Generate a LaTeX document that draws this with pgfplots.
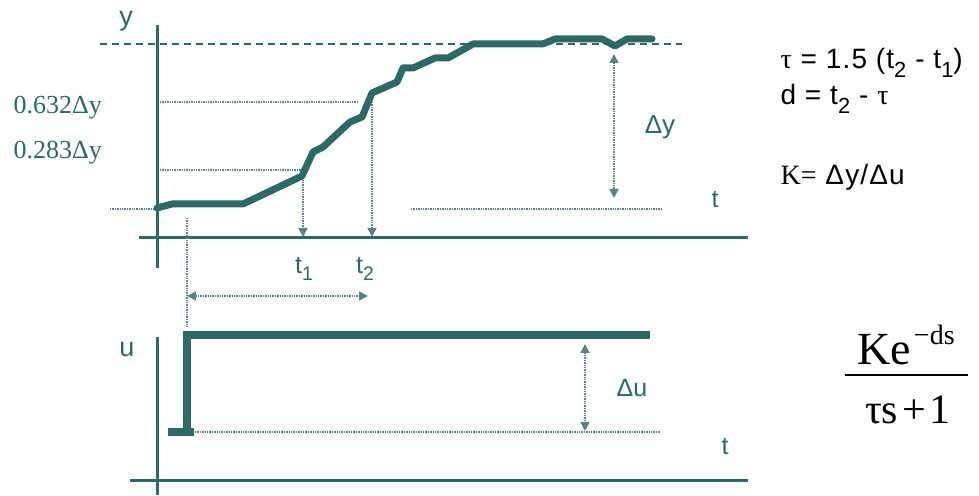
\documentclass[border=0pt]{standalone}
\usepackage{pgfplots}
\pgfplotsset{compat=1.18}
\usepackage{graphicx}
\usepackage{fontspec}
\setmainfont{Liberation Sans}
\newfontfamily\serif{Liberation Serif}
\usetikzlibrary{arrows.meta}
\definecolor{teal}{RGB}{48,104,101}
\definecolor{dotc}{RGB}{90,130,128}
% large, lowered subscript as used in the labels
\newcommand\sub[1]{\raisebox{-0.3em}{\scalebox{0.78}{#1}}}
\begin{document}
\begin{tikzpicture}
\begin{axis}[
  width=979pt, height=495pt, scale only axis,
  xmin=0, xmax=979, ymin=0, ymax=495,
  hide axis, clip=false,
  axisline/.style={teal, line width=3pt, mark=none},
  guide/.style={dotc, line width=1.6pt, dash pattern=on 1.4pt off 1pt, mark=none},
  tip/.style={-{Triangle[width=9pt,length=9pt]}},
  tips/.style={{Triangle[width=9pt,length=9pt]}-{Triangle[width=9pt,length=9pt]}},
]
% axes of the output plot
\addplot[axisline] coordinates {(157,470) (157,227)};
\addplot[axisline] coordinates {(139,257) (748,257)};
% axes of the input plot
\addplot[axisline] coordinates {(157,158) (157,0)};
\addplot[axisline] coordinates {(130,14) (748,14)};

% final value (dashed) and initial value (dotted)
\addplot[teal, line width=2pt, dash pattern=on 7pt off 5pt, mark=none] coordinates {(100,451) (682,451)};
\addplot[guide] coordinates {(110,286) (155,286)};
\addplot[guide] coordinates {(411,286) (662,286)};
% 28.3% and 63.2% levels
\addplot[guide] coordinates {(160,325) (302,325)};
\addplot[guide] coordinates {(160,393) (358,393)};
\addplot[guide, tip] coordinates {(303,325) (303,258)};
\addplot[guide, tip] coordinates {(372,393) (372,258)};
% delta y
\addplot[guide, tips] coordinates {(614,441) (614,297)};
% time delay marker
\addplot[guide] coordinates {(187,277) (187,168)};
\addplot[guide, tips] coordinates {(187,199) (368,199)};

% process response y(t)
\addplot[teal, line width=7pt, line join=round, line cap=round, mark=none] coordinates {
  (157,287) (172,291) (243,291) (302,319) (313,343) (323,348)
  (350,373) (362,378) (372,402) (397,413) (403,427) (413,427)
  (435,437) (448,437) (473,451) (543,451) (555,456) (602,456)
  (615,449) (627,456) (652,456)
};

% step input u(t)
\addplot[teal, line width=8pt, mark=none] coordinates {(168,63) (194,63)};
\addplot[teal, line width=8pt, line join=miter, mark=none] coordinates {(187,63) (187,160) (650,160)};
\addplot[guide] coordinates {(195,63) (660,63)};
\addplot[guide, tips] coordinates {(585,151) (585,64)};

% labels
\node[teal, font=\fontsize{27}{27}\selectfont] at (axis cs:126,474) {y};
\node[teal, font=\serif\fontsize{26}{26}\selectfont, anchor=west] at (axis cs:10,387) {0.632Δy};
\node[teal, font=\serif\fontsize{26}{26}\selectfont, anchor=west] at (axis cs:10,342) {0.283Δy};
\node[teal, font=\fontsize{26}{26}\selectfont] at (axis cs:660,368) {Δy};
\node[teal, font=\fontsize{25}{25}\selectfont] at (axis cs:715,295) {t};
\node[teal, font=\fontsize{25}{25}\selectfont] at (axis cs:304,226) {t\sub{1}};
\node[teal, font=\fontsize{25}{25}\selectfont] at (axis cs:365,226) {t\sub{2}};
\node[teal, font=\fontsize{27}{27}\selectfont] at (axis cs:127,145) {u};
\node[teal, font=\fontsize{25}{25}\selectfont] at (axis cs:632,107) {Δu};
\node[teal, font=\fontsize{25}{25}\selectfont] at (axis cs:725,48) {t};

% model relations
\node[black, anchor=west, font=\addfontfeatures{LetterSpace=4}\fontsize{28}{28}\selectfont] at (axis cs:777,432)
  {{\serif τ} = 1.5 (t\sub{2} - t\sub{1})};
\node[black, anchor=west, font=\addfontfeatures{LetterSpace=4}\fontsize{28}{28}\selectfont] at (axis cs:777,396)
  {d = t\sub{2} - {\serif τ}};
\node[black, anchor=west, font=\addfontfeatures{LetterSpace=4}\fontsize{28}{28}\selectfont] at (axis cs:777,318)
  {{\serif K=} Δy/Δu};

% transfer function
\node[black, font=\serif\fontsize{46}{46}\selectfont] at (axis cs:906,150)
  {Ke\hspace{3pt}\raisebox{0.45em}{\fontsize{28}{28}\selectfont −ds}};
\addplot[black, line width=2.5pt, mark=none] coordinates {(845,120) (968,120)};
\node[black, font=\serif\fontsize{42}{42}\selectfont] at (axis cs:908,85) {τs\hspace{4pt}+\hspace{4pt}1};
\end{axis}
\pgfresetboundingbox
\path (0,0) rectangle (979pt,495pt);
\end{tikzpicture}
\end{document}
